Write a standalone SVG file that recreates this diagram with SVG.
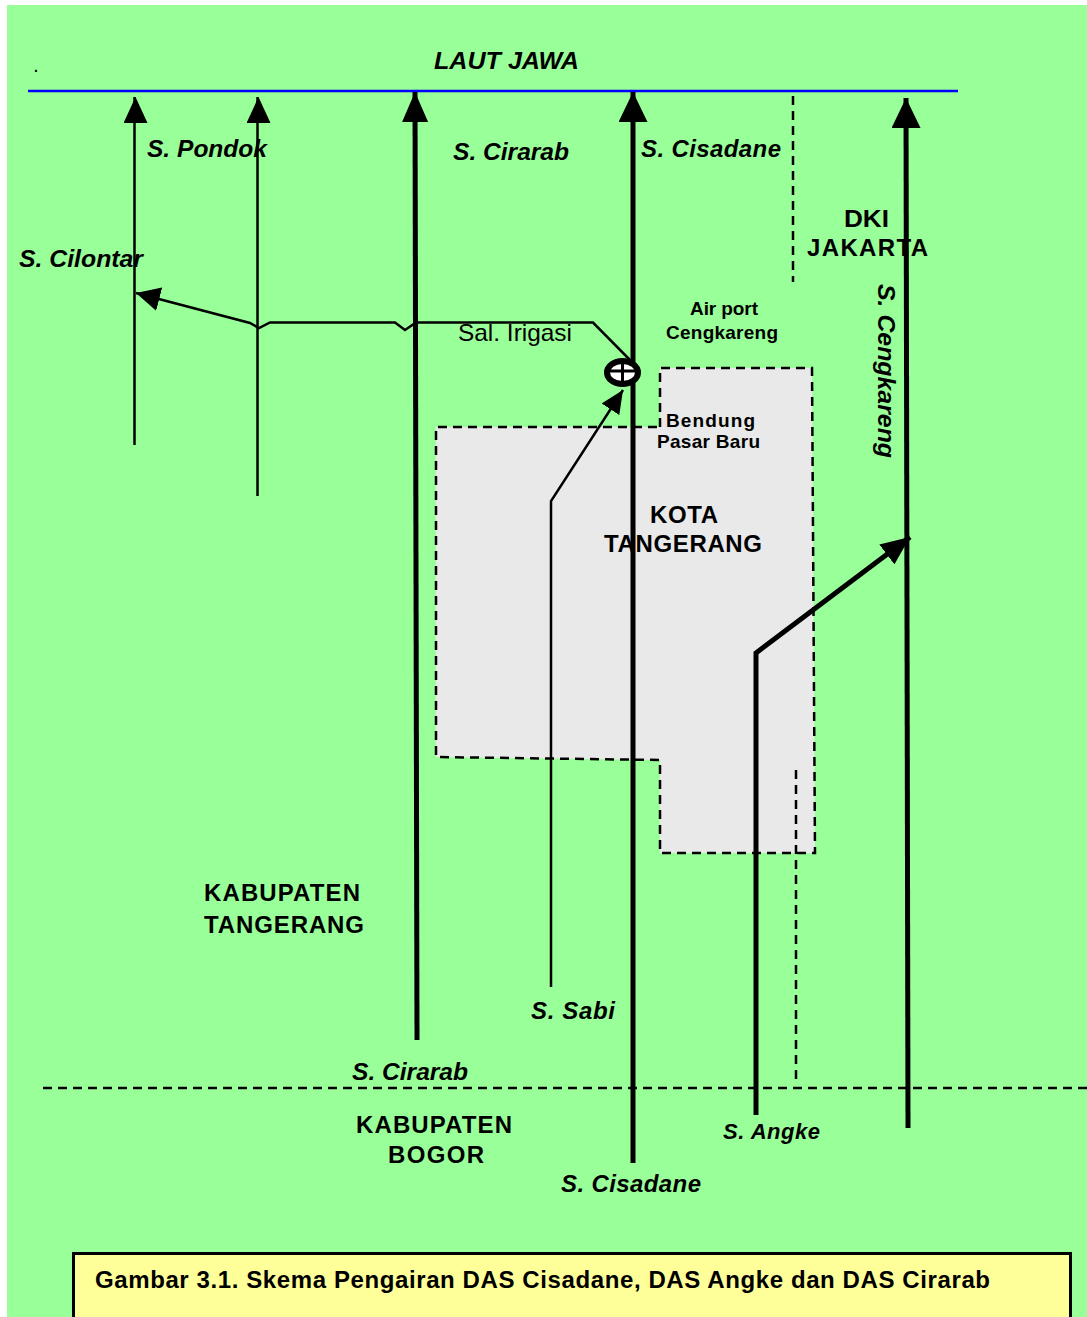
<svg xmlns="http://www.w3.org/2000/svg" width="1087" height="1317" viewBox="0 0 1087 1317">
<style>
text{font-family:"Liberation Sans",Arial,sans-serif;font-weight:bold;fill:#000}
.i{font-style:italic;font-size:24px}
.b{font-size:24px}
.s{font-size:19px}
.l{fill:none;stroke:#000;stroke-linejoin:miter}
.d{fill:none;stroke:#000;stroke-width:2.500;stroke-dasharray:9 6}
</style>
<defs>
<marker id="a" viewBox="0 0 26 24" refX="26" refY="11" markerWidth="26" markerHeight="24" markerUnits="userSpaceOnUse" orient="auto"><path d="M0 0L26 12L0 24z"/></marker>
<marker id="g" viewBox="0 0 24 24" refX="24" refY="12" markerWidth="24" markerHeight="24" markerUnits="userSpaceOnUse" orient="auto"><path d="M0 0L24 12L0 24z"/></marker>
<marker id="f" viewBox="0 0 23 21" refX="23" refY="10.500" markerWidth="23" markerHeight="21" markerUnits="userSpaceOnUse" orient="auto"><path d="M0 0L23 10.500L0 21z"/></marker>
<marker id="c" viewBox="0 0 30 29" refX="30" refY="14.500" markerWidth="30" markerHeight="29" markerUnits="userSpaceOnUse" orient="auto"><path d="M0 0L30 14.500L0 29z"/></marker>
<marker id="h" viewBox="0 0 30 26" refX="30" refY="13" markerWidth="30" markerHeight="26" markerUnits="userSpaceOnUse" orient="auto"><path d="M0 0L30 13L0 26z"/></marker>
<marker id="e" viewBox="0 0 29 25" refX="29" refY="12.500" markerWidth="29" markerHeight="25" markerUnits="userSpaceOnUse" orient="auto"><path d="M0 0L29 12.500L0 25z"/></marker>
</defs>
<rect id="background" x="7" y="5" width="1080" height="1312" fill="#9f9"/>
<g id="kota-area">
<path d="M660 368H812L815 853H660V760L436 757V427H660z" fill="#e9e9e9"/>
<path class="d" d="M660 427V368H812L815 853H660V760L436 757V427H660"/>
</g>
<g id="boundaries">
<path class="d" d="M793 96V282"/>
<path class="d" d="M796 770V1082"/>
<path class="d" d="M43 1088H1087"/>
</g>
<g id="connectors">
<path d="M28 91H958" fill="none" stroke="#00f" stroke-width="2.500"/>
<path class="l" stroke-width="2.500" d="M134.500 445V97" marker-end="url(#a)"/>
<path class="l" stroke-width="2.500" d="M257.500 496V97" marker-end="url(#a)"/>
<path class="l" stroke-width="5" d="M417 1040L415 92" marker-end="url(#h)"/>
<path class="l" stroke-width="5" d="M633 1163V92" marker-end="url(#c)"/>
<path class="l" stroke-width="5" d="M908 1128L906 98" marker-end="url(#c)"/>
<path class="l" stroke-width="2.500" d="M551 987V501L623 390" marker-end="url(#f)"/>
<path class="l" stroke-width="5" d="M756 1115V653L910 537" marker-end="url(#e)"/>
<path class="l" stroke-width="2.500" d="M632 362L593 322.500H416L405 330L395 322.500H270L259 328L250 323L136 293" marker-end="url(#g)"/>
</g>
<g id="bendung-symbol">
<ellipse cx="622.500" cy="372.500" rx="15.500" ry="11.500" fill="#fff" stroke="#000" stroke-width="6"/>
<path d="M607 371H638M622.500 360V384" stroke="#000" stroke-width="3"/>
</g>
<g id="labels">
<text x="34" y="72" font-size="14">.</text>
<text class="i" x="434" y="69" textLength="145" lengthAdjust="spacingAndGlyphs">LAUT JAWA</text>
<text class="i" x="147" y="157" textLength="120" lengthAdjust="spacingAndGlyphs">S. Pondok</text>
<text class="i" x="453" y="160" textLength="116" lengthAdjust="spacingAndGlyphs">S. Cirarab</text>
<text class="i" x="641" y="157" textLength="140" lengthAdjust="spacing">S. Cisadane</text>
<text class="i" x="19" y="267" textLength="124" lengthAdjust="spacingAndGlyphs">S. Cilontar</text>
<text class="b" x="844" y="227" textLength="45" lengthAdjust="spacingAndGlyphs">DKI</text>
<text class="b" x="807" y="256" textLength="121" lengthAdjust="spacing">JAKARTA</text>
<text class="i" transform="translate(878 284) rotate(90)" textLength="174" lengthAdjust="spacingAndGlyphs">S. Cengkareng</text>
<text x="458" y="341" font-size="24" style="font-weight:normal" textLength="114" lengthAdjust="spacingAndGlyphs">Sal. Irigasi</text>
<text class="s" x="690" y="315" textLength="68" lengthAdjust="spacing">Air port</text>
<text class="s" x="666" y="339" textLength="112" lengthAdjust="spacing">Cengkareng</text>
<text class="s" x="666" y="427" textLength="89" lengthAdjust="spacing">Bendung</text>
<text class="s" x="657" y="448" textLength="103" lengthAdjust="spacing">Pasar Baru</text>
<text class="b" x="650" y="523" textLength="68" lengthAdjust="spacing">KOTA</text>
<text class="b" x="604" y="552" textLength="158" lengthAdjust="spacing">TANGERANG</text>
<text class="b" x="204" y="901" textLength="156" lengthAdjust="spacing">KABUPATEN</text>
<text class="b" x="204" y="933" textLength="160" lengthAdjust="spacing">TANGERANG</text>
<text class="i" x="531" y="1019" textLength="84" lengthAdjust="spacing">S. Sabi</text>
<text class="i" x="352" y="1080" textLength="116" lengthAdjust="spacingAndGlyphs">S. Cirarab</text>
<text class="b" x="356" y="1133" textLength="156" lengthAdjust="spacing">KABUPATEN</text>
<text class="b" x="388" y="1163" textLength="96" lengthAdjust="spacing">BOGOR</text>
<text class="i" x="723" y="1139" style="font-size:22px" textLength="97" lengthAdjust="spacing">S. Angke</text>
<text class="i" x="561" y="1192" textLength="140" lengthAdjust="spacing">S. Cisadane</text>
</g>
<g id="caption">
<rect x="73.500" y="1253.500" width="997" height="70" fill="#ff9" stroke="#000" stroke-width="3"/>
<text x="95" y="1288" font-size="24" textLength="895" lengthAdjust="spacing">Gambar 3.1. Skema Pengairan DAS Cisadane, DAS Angke dan DAS Cirarab</text>
</g>
</svg>
